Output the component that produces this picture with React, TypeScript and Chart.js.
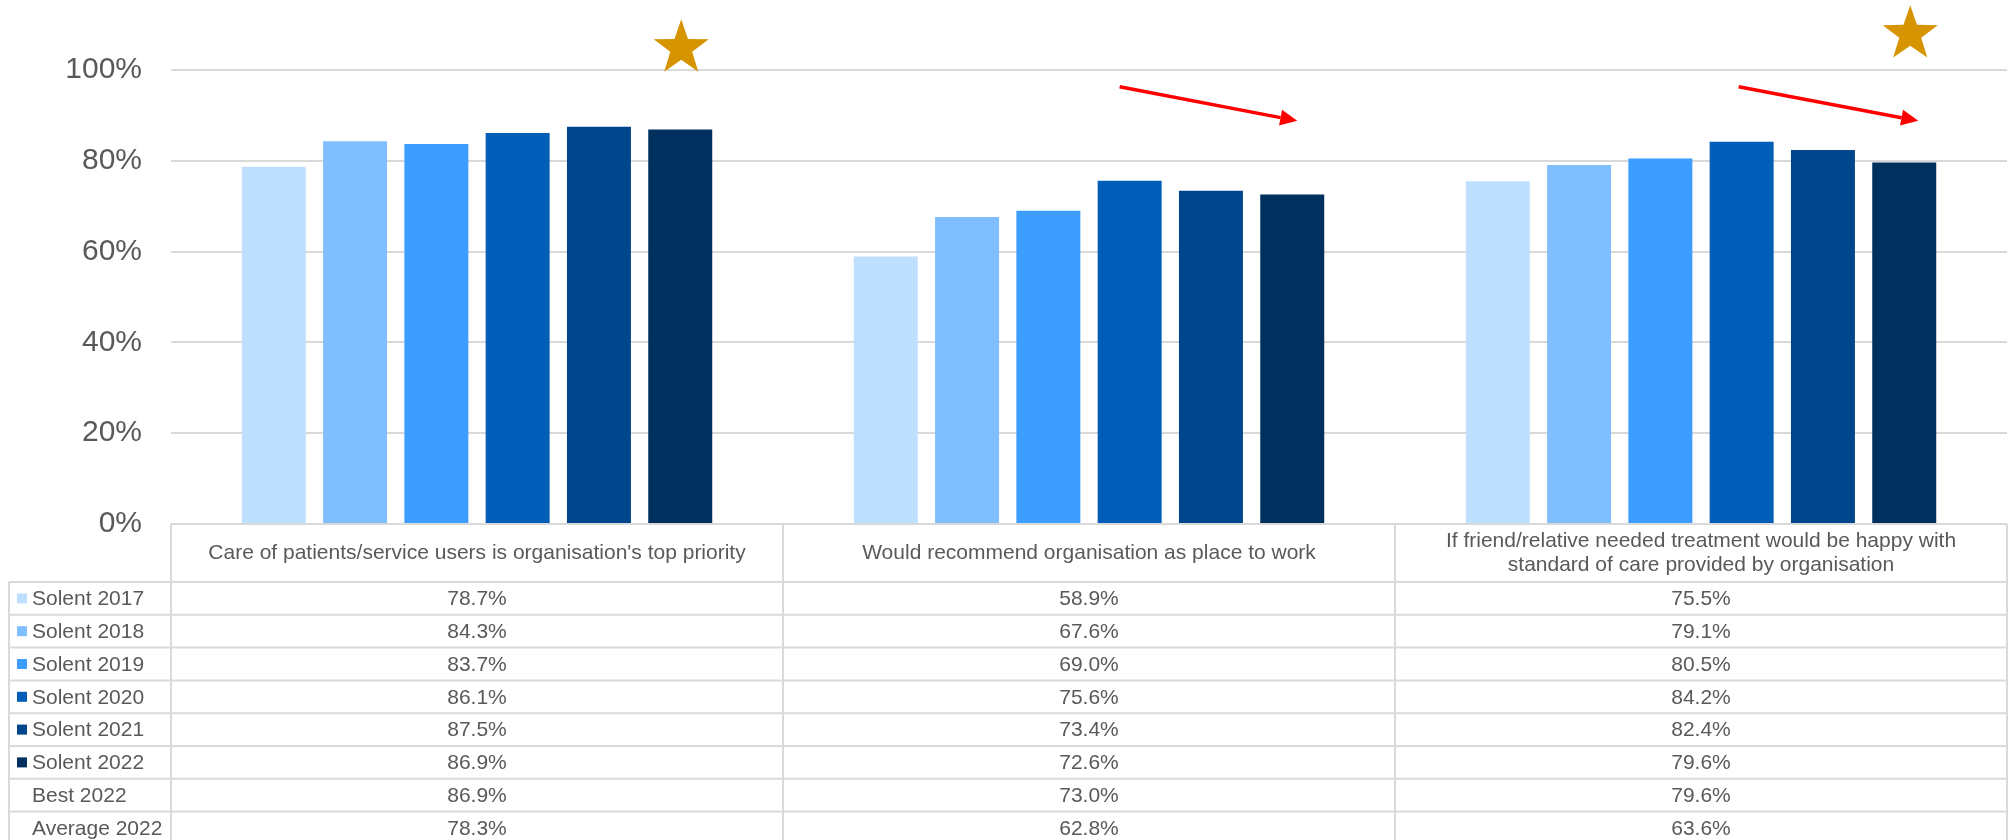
import React, { useEffect, useRef } from "react";
import { Chart, registerables } from "chart.js";

Chart.register(...registerables);

// ---------- data ----------
const categories: string[][] = [
  ["Care of patients/service users is organisation's top priority"],
  ["Would recommend organisation as place to work"],
  [
    "If friend/relative needed treatment would be happy with",
    "standard of care provided by organisation",
  ],
];

const seriesNames = [
  "Solent 2017",
  "Solent 2018",
  "Solent 2019",
  "Solent 2020",
  "Solent 2021",
  "Solent 2022",
];
const solent2017 = [78.7, 58.9, 75.5];
const solent2018 = [84.3, 67.6, 79.1];
const solent2019 = [83.7, 69.0, 80.5];
const solent2020 = [86.1, 75.6, 84.2];
const solent2021 = [87.5, 73.4, 82.4];
const solent2022 = [86.9, 72.6, 79.6];

const extraRowNames = ["Best 2022", "Average 2022"];
const best2022 = [86.9, 73.0, 79.6];
const average2022 = [78.3, 62.8, 63.6];

const yTicks = [0, 20, 40, 60, 80, 100];

// annotations: star above Solent 2022 bar (category index, value level)
const starCategories = [0, 2];
const starLevels = [104.8, 107.9];
// arrows from the 2020 bar to the 2022 bar (category index, start/end levels)
const arrowCategories = [1, 2];
const arrowStartLevels = [96.3, 96.3];
const arrowEndLevels = [88.8, 88.8];

// ---------- styles ----------
const seriesColors = ["#BFDFFF", "#80BFFF", "#3D9EFF", "#005EB8", "#00468C", "#00305E"];
const FONT = "'Liberation Sans', Arial, Helvetica, sans-serif";
const TEXT = "#595959";
const LINE = "#D9D9D9";

const allSeries = [solent2017, solent2018, solent2019, solent2020, solent2021, solent2022];

function drawStar(ctx: CanvasRenderingContext2D, cx: number, cy: number, R: number, r: number) {
  ctx.beginPath();
  for (let i = 0; i < 10; i++) {
    const rad = i % 2 === 0 ? R : r;
    const a = -Math.PI / 2 + (i * Math.PI) / 5;
    const px = cx + rad * Math.cos(a);
    const py = cy + rad * Math.sin(a);
    if (i === 0) ctx.moveTo(px, py);
    else ctx.lineTo(px, py);
  }
  ctx.closePath();
  ctx.fill();
}

function drawArrow(ctx: CanvasRenderingContext2D, x1: number, y1: number, x2: number, y2: number) {
  const ang = Math.atan2(y2 - y1, x2 - x1);
  const headLen = 17;
  const headHalf = 8;
  const bx = x2 - headLen * Math.cos(ang);
  const by = y2 - headLen * Math.sin(ang);
  ctx.strokeStyle = "#FF0000";
  ctx.fillStyle = "#FF0000";
  ctx.lineWidth = 3.5;
  ctx.beginPath();
  ctx.moveTo(x1, y1);
  ctx.lineTo(bx, by);
  ctx.stroke();
  ctx.beginPath();
  ctx.moveTo(x2, y2);
  ctx.lineTo(bx + headHalf * Math.sin(ang), by - headHalf * Math.cos(ang));
  ctx.lineTo(bx - headHalf * Math.sin(ang), by + headHalf * Math.cos(ang));
  ctx.closePath();
  ctx.fill();
}

const annotationPlugin = {
  id: "annotations",
  afterDatasetsDraw(chart: any) {
    const { ctx, scales } = chart;
    const y = scales.y;
    const lastMeta = chart.getDatasetMeta(5);
    const midMeta = chart.getDatasetMeta(3);
    ctx.save();
    ctx.fillStyle = "#D59400";
    const starOffsets = [1, 6];
    starCategories.forEach((c, i) => {
      const bar = lastMeta.data[c];
      drawStar(ctx, bar.x + starOffsets[i], y.getPixelForValue(starLevels[i]), 29, 11.5);
    });
    const startOffsets = [-10, -3];
    const endOffsets = [5, 14];
    arrowCategories.forEach((c, i) => {
      const b0 = midMeta.data[c];
      const b1 = lastMeta.data[c];
      drawArrow(
        ctx,
        b0.x + startOffsets[i],
        y.getPixelForValue(arrowStartLevels[i]),
        b1.x + endOffsets[i],
        y.getPixelForValue(arrowEndLevels[i])
      );
    });
    ctx.restore();
  },
};

const tablePlugin = {
  id: "dataTable",
  afterDraw(chart: any) {
    const { ctx, chartArea: ca, scales } = chart;
    const x = scales.x;
    const n = categories.length;
    const colW = (ca.right - ca.left) / n;
    const headerTop = ca.bottom;
    const headerH = 58;
    const rowH = 32.8;
    const tableLeft = 9;

    const rows: { name: string; values: number[]; color?: string }[] = [
      ...seriesNames.map((name, i) => ({ name, values: allSeries[i], color: seriesColors[i] })),
      { name: extraRowNames[0], values: best2022 },
      { name: extraRowNames[1], values: average2022 },
    ];
    const bodyTop = headerTop + headerH;
    const tableBottom = bodyTop + rows.length * rowH;

    ctx.save();
    ctx.strokeStyle = LINE;
    ctx.lineWidth = 2;
    // header top
    ctx.beginPath();
    ctx.moveTo(ca.left, headerTop);
    ctx.lineTo(ca.right, headerTop);
    ctx.stroke();
    // row lines
    for (let r = 0; r <= rows.length; r++) {
      const yy = bodyTop + r * rowH;
      ctx.beginPath();
      ctx.moveTo(tableLeft, yy);
      ctx.lineTo(ca.right, yy);
      ctx.stroke();
    }
    // vertical lines
    ctx.beginPath();
    ctx.moveTo(tableLeft, bodyTop);
    ctx.lineTo(tableLeft, tableBottom);
    ctx.stroke();
    for (let i = 0; i <= n; i++) {
      const xx = ca.left + i * colW;
      ctx.beginPath();
      ctx.moveTo(xx, headerTop);
      ctx.lineTo(xx, tableBottom);
      ctx.stroke();
    }

    // header text
    ctx.fillStyle = TEXT;
    ctx.font = `21px ${FONT}`;
    ctx.textAlign = "center";
    ctx.textBaseline = "middle";
    const lineH = 24.3;
    categories.forEach((lines, i) => {
      const cx = x.getPixelForValue(i);
      const cy = headerTop + headerH / 2;
      const startY = cy - ((lines.length - 1) * lineH) / 2;
      lines.forEach((t, k) => ctx.fillText(t, cx, startY + k * lineH));
    });

    // rows
    rows.forEach((row, r) => {
      const cy = bodyTop + r * rowH + rowH / 2;
      if (row.color) {
        ctx.fillStyle = row.color;
        ctx.fillRect(tableLeft + 8, cy - 5, 10, 10);
      }
      ctx.fillStyle = TEXT;
      ctx.textAlign = "left";
      ctx.fillText(row.name, tableLeft + 23, cy + 1);
      ctx.textAlign = "center";
      row.values.forEach((v, i) => {
        ctx.fillText(v.toFixed(1) + "%", x.getPixelForValue(i), cy + 1);
      });
    });
    ctx.restore();
  },
};

export default function App() {
  const canvasRef = useRef<HTMLCanvasElement | null>(null);

  useEffect(() => {
    if (!canvasRef.current) return;
    const chart = new Chart(canvasRef.current, {
      type: "bar",
      data: {
        labels: categories.map((c) => c.join(" ")),
        datasets: seriesNames.map((name, i) => ({
          label: name,
          data: allSeries[i],
          backgroundColor: seriesColors[i],
          borderWidth: 0,
          categoryPercentage: 0.797,
          barPercentage: 0.787,
        })),
      },
      options: {
        responsive: false,
        animation: false,
        devicePixelRatio: 1,
        layout: { padding: { left: 0, right: 4, top: 70, bottom: 316 } },
        plugins: {
          legend: { display: false },
          tooltip: { enabled: false },
        },
        scales: {
          x: { display: false },
          y: {
            min: yTicks[0],
            max: yTicks[yTicks.length - 1],
            afterBuildTicks: (scale: any) => {
              scale.ticks = yTicks.map((v) => ({ value: v }));
            },
            afterFit: (scale: any) => {
              scale.width = 171;
            },
            ticks: {
              callback: (v: any) => v + "%",
              color: TEXT,
              font: { family: FONT, size: 30 },
              padding: 29,
            },
            grid: { color: LINE, lineWidth: 2, drawTicks: false },
            border: { display: false },
          },
        },
      },
      plugins: [annotationPlugin, tablePlugin],
    } as any);
    return () => chart.destroy();
  }, []);

  return (
    <div style={{ position: "absolute", left: 0, top: 0, background: "#fff" }}>
      <canvas ref={canvasRef} width={2011} height={840} style={{ display: "block" }} />
    </div>
  );
}
